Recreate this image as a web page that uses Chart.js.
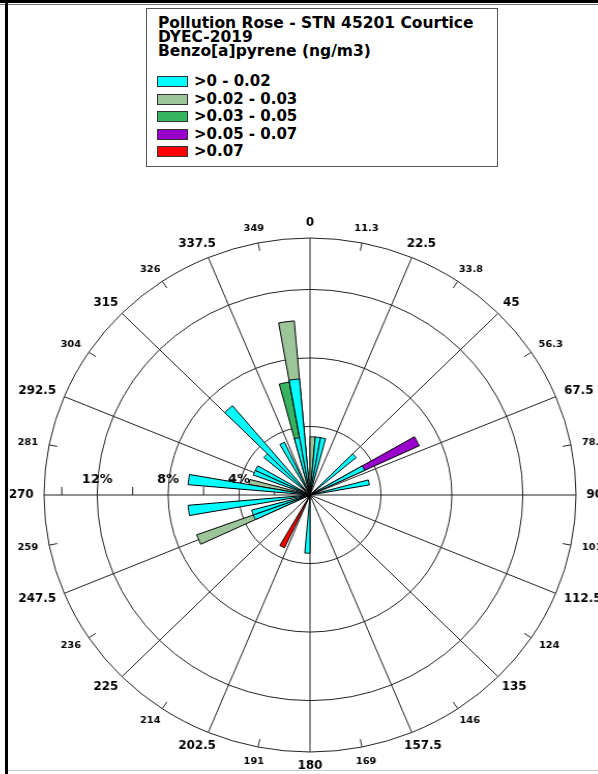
<!DOCTYPE html>
<html lang="en">
<head>
<meta charset="utf-8">
<title>Pollution Rose - STN 45201 Courtice</title>
<script src="https://cdn.jsdelivr.net/npm/chart.js@4.4.1/dist/chart.umd.min.js"></script>
<style>
    html, body { margin: 0; padding: 0; background: #fff; }
    #pagina { position: relative; width: 598px; height: 774px; overflow: hidden; background: #fff; }
    #rosa { position: absolute; left: 0; top: 0; transform: scaleX(1.035); transform-origin: 310px 0; }
    .linha { position: absolute; }
    #legenda {
        position: absolute; left: 146px; top: 8px; width: 350px; height: 157px;
        border: 1px solid #555; background: #fff; color: #000;
        font-family: "DejaVu Sans", sans-serif; font-weight: bold;
    }
    .titulo { position: absolute; left: 11px; font-size: 15.5px; line-height: 15px; white-space: nowrap; }
    .item { position: absolute; left: 10px; height: 15px; line-height: 15px; font-size: 15px; white-space: nowrap; }
    .cor { position: absolute; left: 0; top: 2px; width: 29px; height: 9px; border: 1px solid #333; }
    .txt { position: absolute; left: 37px; top: 0; }
</style>
</head>
<body>
<div id="pagina">
    <canvas id="rosa" width="598" height="774"></canvas>

    <!-- moldura da página -->
    <div class="linha" style="left:0; top:0; width:598px; height:3px; background:#000;"></div>
    <div class="linha" style="left:0; top:4px; width:598px; height:1px; background:#777;"></div>
    <div class="linha" style="left:5px; top:0; width:3px; height:774px; background:#000;"></div>
    <div class="linha" style="left:8px; top:770px; width:590px; height:1px; background:#ccc;"></div>

    <div id="legenda">
        <div class="titulo" style="top:7px;">Pollution Rose - STN 45201 Courtice</div>
        <div class="titulo" style="top:21px;">DYEC-2019</div>
        <div class="titulo" style="top:35px;">Benzo[a]pyrene (ng/m3)</div>
        <div id="itens"></div>
    </div>
</div>

<script>
// Centro de cada setor de 5 graus (sentido horário a partir do norte)
const setores = [
    2.5, 7.5, 12.5, 17.5, 22.5, 27.5, 32.5, 37.5, 42.5, 47.5, 52.5, 57.5,
    62.5, 67.5, 72.5, 77.5, 82.5, 87.5, 92.5, 97.5, 102.5, 107.5, 112.5, 117.5,
    122.5, 127.5, 132.5, 137.5, 142.5, 147.5, 152.5, 157.5, 162.5, 167.5, 172.5, 177.5,
    182.5, 187.5, 192.5, 197.5, 202.5, 207.5, 212.5, 217.5, 222.5, 227.5, 232.5, 237.5,
    242.5, 247.5, 252.5, 257.5, 262.5, 267.5, 272.5, 277.5, 282.5, 287.5, 292.5, 297.5,
    302.5, 307.5, 312.5, 317.5, 322.5, 327.5, 332.5, 337.5, 342.5, 347.5, 352.5, 357.5
];

// Frequência (%) de cada classe de concentração por setor
const classe1 = [ // >0 - 0.02
    0, 3.4, 3.4, 0, 0, 0, 0, 0, 0, 3.4, 0, 0,
    3.4, 0, 0, 3.4, 0, 0, 0, 0, 0, 0, 0, 0,
    0, 0, 0, 0, 0, 0, 0, 0, 0, 0, 0, 0,
    3.4, 0, 0, 0, 0, 0, 0, 0, 0, 0, 0, 0,
    0, 3.4, 3.4, 0, 6.9, 0, 0, 6.9, 0, 0, 3.4, 3.4,
    0, 0, 3.4, 6.8, 0, 0, 3.4, 0, 0, 3.4, 6.8, 0
];
const classe2 = [ // >0.02 - 0.03
    3.4, 0, 0, 0, 0, 0, 0, 0, 0, 0, 0, 0,
    0, 0, 0, 0, 0, 0, 0, 0, 0, 0, 0, 0,
    0, 0, 0, 0, 0, 0, 0, 0, 0, 0, 0, 0,
    0, 0, 0, 0, 0, 0, 0, 0, 0, 0, 0, 0,
    0, 3.4, 0, 0, 0, 0, 0, 0, 3.5, 0, 0, 0,
    0, 0, 0, 0, 0, 0, 0, 0, 0, 0, 3.4, 0
];
const classe3 = [ // >0.03 - 0.05
    0, 0, 0, 0, 0, 0, 0, 0, 0, 0, 0, 0,
    0, 0, 0, 0, 0, 0, 0, 0, 0, 0, 0, 0,
    0, 0, 0, 0, 0, 0, 0, 0, 0, 0, 0, 0,
    0, 0, 0, 0, 0, 0, 0, 0, 0, 0, 0, 0,
    0, 0, 0, 0, 0, 0, 0, 0, 0, 0, 0, 0,
    0, 0, 0, 0, 0, 0, 0, 0, 0, 3.3, 0, 0
];
const classe4 = [ // >0.05 - 0.07
    0, 0, 0, 0, 0, 0, 0, 0, 0, 0, 0, 0,
    3.4, 0, 0, 0, 0, 0, 0, 0, 0, 0, 0, 0,
    0, 0, 0, 0, 0, 0, 0, 0, 0, 0, 0, 0,
    0, 0, 0, 0, 0, 0, 0, 0, 0, 0, 0, 0,
    0, 0, 0, 0, 0, 0, 0, 0, 0, 0, 0, 0,
    0, 0, 0, 0, 0, 0, 0, 0, 0, 0, 0, 0
];
const classe5 = [ // >0.07
    0, 0, 0, 0, 0, 0, 0, 0, 0, 0, 0, 0,
    0, 0, 0, 0, 0, 0, 0, 0, 0, 0, 0, 0,
    0, 0, 0, 0, 0, 0, 0, 0, 0, 0, 0, 0,
    0, 0, 0, 0, 0, 3.4, 0, 0, 0, 0, 0, 0,
    0, 0, 0, 0, 0, 0, 0, 0, 0, 0, 0, 0,
    0, 0, 0, 0, 0, 0, 0, 0, 0, 0, 0, 0
];

const nomesClasses = [">0 - 0.02", ">0.02 - 0.03", ">0.03 - 0.05", ">0.05 - 0.07", ">0.07"];
const coresClasses = ["#00FFFF", "#9CC59A", "#38B560", "#9A00CC", "#FF0000"];

// Rótulos de direção e do eixo radial
const rotulosPrincipais = ["0", "22.5", "45", "67.5", "90", "112.5", "135", "157.5",
                           "180", "202.5", "225", "247.5", "270", "292.5", "315", "337.5"];
const rotulosSecundarios = ["11.3", "33.8", "56.3", "78.8", "101", "124", "146", "169",
                            "191", "214", "236", "259", "281", "304", "326", "349"];
const circulos = [0, 4, 8, 12, 15];
const rotulosCirculos = ["4%", "8%", "12%"];
const marcasEixo = [2, 6, 10, 14];

// Monta a legenda em HTML
const itensDiv = document.getElementById("itens");
nomesClasses.forEach((nome, i) => {
    const topo = 65.3 + i * 17.5;
    itensDiv.innerHTML += `
        <div class="item" style="top:${topo}px;">
            <span class="cor" style="background:${coresClasses[i]};"></span>
            <span class="txt">${nome}</span>
        </div>`;
});

// As barras são empilhadas: cada camada vai do centro até o acumulado
const classes = [classe1, classe2, classe3, classe4, classe5];
const acumulados = classes.map(() => []);
setores.forEach((s, i) => {
    let soma = 0;
    classes.forEach((c, j) => {
        soma += c[i];
        acumulados[j].push(c[i] > 0 ? soma : 0);
    });
});

const corGrade = "#222";
const fonteRotulo = (tam) => `bold ${tam}px "DejaVu Sans"`;

function rotuloRadial(ctx, texto, graus, raio, cx, cy, alt) {
    const w = ctx.measureText(texto).width;
    const a = graus * Math.PI / 180;
    const ux = Math.sin(a), uy = -Math.cos(a);
    const x = cx + ux * raio + ux * w / 2;
    const y = cy + uy * raio + uy * alt / 2;
    ctx.fillText(texto, x, y);
}

const pluginRosa = {
    id: "rosa",
    beforeDatasetsDraw(chart) {
        const r = chart.scales.r;
        const ctx = chart.ctx;
        const cx = r.xCenter, cy = r.yCenter, R = r.drawingArea;
        ctx.save();
        ctx.strokeStyle = corGrade;
        ctx.lineWidth = 1;
        // linhas radiais a cada 22.5 graus
        for (let k = 0; k < 16; k++) {
            const a = k * 22.5 * Math.PI / 180;
            ctx.beginPath();
            ctx.moveTo(cx, cy);
            ctx.lineTo(cx + R * Math.sin(a), cy - R * Math.cos(a));
            ctx.stroke();
        }
        // marcas curtas no círculo externo
        for (let k = 0; k < 16; k++) {
            const a = (11.25 + k * 22.5) * Math.PI / 180;
            ctx.beginPath();
            ctx.moveTo(cx + R * Math.sin(a), cy - R * Math.cos(a));
            ctx.lineTo(cx + (R - 8) * Math.sin(a), cy - (R - 8) * Math.cos(a));
            ctx.stroke();
        }
        // marcas no eixo oeste
        marcasEixo.forEach(v => {
            const x = cx - r.getDistanceFromCenterForValue(v);
            ctx.beginPath();
            ctx.moveTo(x, cy);
            ctx.lineTo(x, cy - 8);
            ctx.stroke();
        });
        ctx.restore();
    },
    afterDraw(chart) {
        const r = chart.scales.r;
        const ctx = chart.ctx;
        const cx = r.xCenter, cy = r.yCenter, R = r.drawingArea;
        ctx.save();
        ctx.fillStyle = "#000";
        ctx.textAlign = "center";
        ctx.textBaseline = "middle";
        ctx.font = fonteRotulo(11.5);
        rotulosPrincipais.forEach((t, k) => rotuloRadial(ctx, t, k * 22.5, R + 10, cx, cy, 9));
        ctx.font = fonteRotulo(9.5);
        rotulosSecundarios.forEach((t, k) => rotuloRadial(ctx, t, 11.25 + k * 22.5, R + 11, cx, cy, 7));
        // rótulos de porcentagem sobre o eixo oeste
        ctx.font = fonteRotulo(12.5);
        ctx.textBaseline = "alphabetic";
        rotulosCirculos.forEach((t, k) => {
            const x = cx - r.getDistanceFromCenterForValue(circulos[k + 1]);
            ctx.fillText(t, x, cy - 12);
        });
        ctx.restore();
    }
};

const ctx = document.getElementById("rosa").getContext("2d");
new Chart(ctx, {
    type: "polarArea",
    data: {
        labels: setores,
        datasets: acumulados.map((dados, j) => ({
            label: nomesClasses[j],
            data: dados,
            backgroundColor: coresClasses[j],
            borderColor: "#000",
            borderWidth: (c) => (c.raw > 0 ? 1 : 0)
        }))
    },
    options: {
        responsive: false,
        animation: false,
        devicePixelRatio: 1,
        layout: { padding: { left: 53, right: 31, top: 238, bottom: 22 } },
        plugins: {
            legend: { display: false },
            tooltip: { enabled: false }
        },
        scales: {
            r: {
                min: 0,
                max: 15,
                startAngle: 0,
                afterBuildTicks: (escala) => {
                    escala.ticks = circulos.map(v => ({ value: v }));
                },
                ticks: { display: false },
                grid: { circular: true, color: corGrade, lineWidth: 1 },
                angleLines: { display: false },
                pointLabels: { display: false }
            }
        }
    },
    plugins: [pluginRosa]
});
</script>
</body>
</html>
